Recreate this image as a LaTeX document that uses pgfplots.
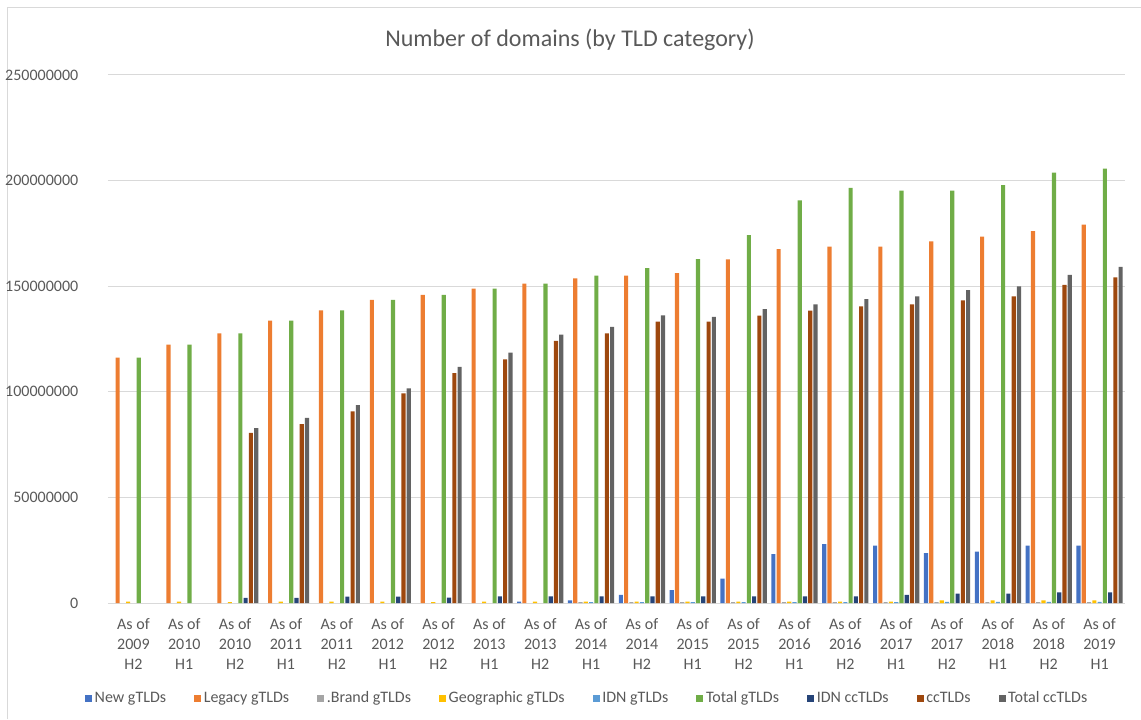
\documentclass[border=0pt]{standalone}
\usepackage{fontspec}
\setmainfont{Carlito}
\usepackage{pgfplots}
\usepackage{pgfplotstable}
\pgfplotsset{compat=1.18}
\definecolor{cNew}{HTML}{4472C4}
\definecolor{cLegacy}{HTML}{ED7D31}
\definecolor{cBrand}{HTML}{A5A5A5}
\definecolor{cGeo}{HTML}{FFC000}
\definecolor{cIdng}{HTML}{5B9BD5}
\definecolor{cTotalg}{HTML}{70AD47}
\definecolor{cIdncc}{HTML}{264478}
\definecolor{cCc}{HTML}{9E480E}
\definecolor{cTotalcc}{HTML}{636363}
\definecolor{txt}{HTML}{595959}
\definecolor{gridc}{HTML}{D9D9D9}

\pgfplotstableread{
x new legacy brand geo idng totalg idncc cc totalcc
0 nan 116200000 nan 700000 nan 116200000 nan nan nan
1 nan 122300000 nan 700000 nan 122300000 nan nan nan
2 nan 127700000 nan 400000 nan 127700000 2400000 80500000 82800000
3 nan 133700000 nan 700000 nan 133700000 2400000 84700000 87700000
4 nan 138600000 nan 700000 nan 138600000 3000000 90700000 93700000
5 nan 143500000 nan 700000 nan 143500000 3000000 99200000 101600000
6 nan 145900000 nan 400000 nan 145900000 2500000 108800000 111800000
7 nan 148800000 nan 700000 nan 148800000 3100000 115400000 118600000
8 600000 151200000 nan 700000 nan 151200000 3100000 124100000 127100000
9 1300000 153700000 400000 600000 400000 155000000 3100000 127700000 130700000
10 3800000 155000000 400000 600000 400000 158600000 3100000 133200000 136200000
11 6100000 156200000 400000 600000 400000 162800000 3100000 133200000 135500000
12 11500000 162700000 400000 600000 400000 174200000 3100000 136100000 139100000
13 23100000 167600000 400000 600000 400000 190600000 3100000 138400000 141400000
14 27900000 168700000 400000 600000 400000 196500000 3100000 140500000 143900000
15 27200000 168700000 400000 600000 400000 195300000 3800000 141400000 145200000
16 23600000 171200000 400000 1300000 500000 195300000 4400000 143300000 148200000
17 24300000 173500000 400000 1300000 500000 197800000 4400000 145200000 149900000
18 27200000 176100000 400000 1300000 500000 203800000 5000000 150600000 155400000
19 27200000 179100000 400000 1300000 500000 205700000 5000000 154200000 159100000
}\data

\begin{document}
\begin{tikzpicture}
\useasboundingbox (0,0) rectangle (855.75pt,539.25pt);
\draw[gridc, line width=0.75pt] (5.25pt,0) -- (5.25pt,533.25pt) -- (855.75pt,533.25pt);
\node[text=txt, font=\fontsize{18}{22}\selectfont] at (427.5pt,509.25pt) {Number of domains (by TLD category)};
\begin{axis}[
  at={(81pt,87pt)}, anchor=south west,
  width=762.75pt, height=396pt, scale only axis,
  ybar=0.85pt, bar width=3.1pt,
  xmin=-0.5, xmax=19.5, ymin=0, ymax=250000000,
  axis lines=left, axis line style={draw=none},
  tick style={draw=none},
  ymajorgrids, grid style={gridc, line width=0.75pt},
  ytick={0,50000000,100000000,150000000,200000000,250000000},
  scaled y ticks=false,
  /pgf/number format/assume math mode=true,
  /pgf/number format/fixed, /pgf/number format/precision=0, /pgf/number format/1000 sep={},
  y tick label style={font=\fontsize{12}{14}\selectfont, text=txt, inner sep=0pt, xshift=-20pt},
  xtick={0,...,19},
  xticklabels={{As of\\2009\\H2},{As of\\2010\\H1},{As of\\2010\\H2},{As of\\2011\\H1},{As of\\2011\\H2},{As of\\2012\\H1},{As of\\2012\\H2},{As of\\2013\\H1},{As of\\2013\\H2},{As of\\2014\\H1},{As of\\2014\\H2},{As of\\2015\\H1},{As of\\2015\\H2},{As of\\2016\\H1},{As of\\2016\\H2},{As of\\2017\\H1},{As of\\2017\\H2},{As of\\2018\\H1},{As of\\2018\\H2},{As of\\2019\\H1}},
  x tick label style={align=center, font=\fontsize{12}{15.1}\selectfont, text=txt, inner sep=0pt, yshift=-9pt},
  legend columns=9,
  legend image code/.code={\fill[#1] (0pt,-2.6pt) rectangle (5.25pt,2.6pt);},
  legend style={draw=none, fill=none, at={(0.4715,-0.18)}, anchor=center,
    font=\fontsize{12}{14}\selectfont, text=txt,
    /tikz/every even column/.append style={column sep=19pt}},
]
\addplot[fill=cNew, draw=none] table[x=x,y=new]{\data};
\addlegendentry{New gTLDs}
\addplot[fill=cLegacy, draw=none] table[x=x,y=legacy]{\data};
\addlegendentry{Legacy gTLDs}
\addplot[fill=cBrand, draw=none] table[x=x,y=brand]{\data};
\addlegendentry{.Brand gTLDs}
\addplot[fill=cGeo, draw=none] table[x=x,y=geo]{\data};
\addlegendentry{Geographic gTLDs}
\addplot[fill=cIdng, draw=none] table[x=x,y=idng]{\data};
\addlegendentry{IDN gTLDs}
\addplot[fill=cTotalg, draw=none] table[x=x,y=totalg]{\data};
\addlegendentry{Total gTLDs}
\addplot[fill=cIdncc, draw=none] table[x=x,y=idncc]{\data};
\addlegendentry{IDN ccTLDs}
\addplot[fill=cCc, draw=none] table[x=x,y=cc]{\data};
\addlegendentry{ccTLDs}
\addplot[fill=cTotalcc, draw=none] table[x=x,y=totalcc]{\data};
\addlegendentry{Total ccTLDs}
\end{axis}
\end{tikzpicture}
\end{document}
